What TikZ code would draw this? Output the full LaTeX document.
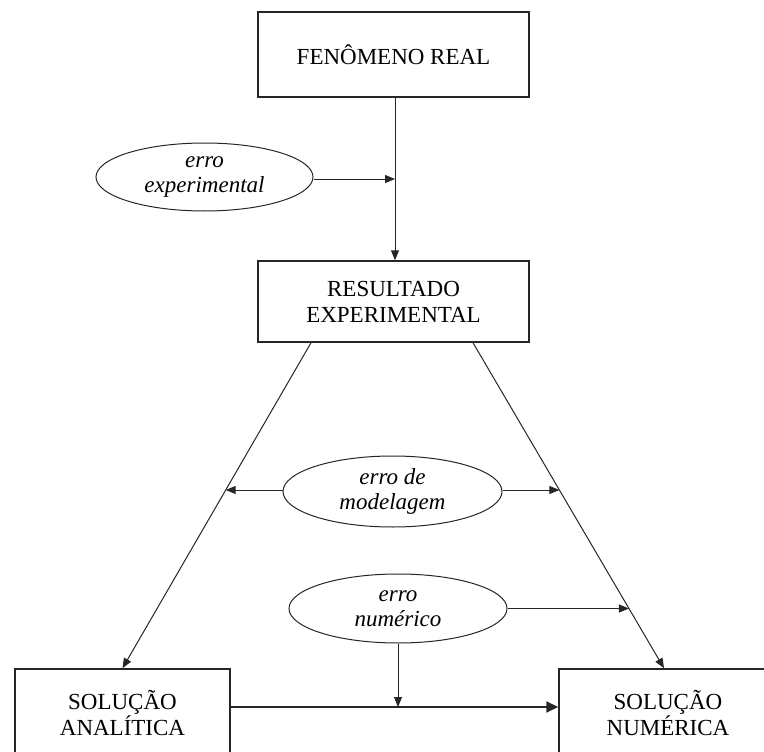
\documentclass[tikz,border=0pt]{standalone}
\usepackage{fontspec}
\setmainfont{Liberation Serif}
\usetikzlibrary{arrows.meta,shapes.geometric,intersections,calc}

\tikzset{
  box/.style={draw=black!85, line width=1.5pt, inner sep=0pt, align=center,
              font=\fontsize{23}{26}\selectfont},
  erro/.style={ellipse, draw=black!85, line width=1pt, inner sep=0pt, align=center,
               font=\fontsize{23}{25}\selectfont\itshape},
  link/.style={draw=black!85, line width=1pt},
  tip/.style={-{Triangle[length=10pt,width=8pt]}},
  bigtip/.style={-{Triangle[length=12pt,width=11pt]}}
}

\begin{document}
\begin{tikzpicture}[x=1pt,y=-1pt]
  \useasboundingbox (0,0) rectangle (764,752);
  \clip (0,0) rectangle (764,752);

  % boxes
  \node[box, minimum width=271pt, minimum height=85pt] (fen) at (393.5,54.5) {FENÔMENO REAL};
  \node[box, minimum width=271pt, minimum height=81pt] (res) at (393.5,301.5) {RESULTADO\\EXPERIMENTAL};
  \node[box, minimum width=215pt, minimum height=87pt] (sa) at (122.5,712.5) {SOLUÇÃO\\ANALÍTICA};
  \node[box, minimum width=218pt, minimum height=87pt] (sn) at (668,712.5) {SOLUÇÃO\\NUMÉRICA};

  % error sources
  \node[erro, minimum width=217pt, minimum height=68pt] (exp) at (204.5,177) {erro\\experimental};
  \node[erro, minimum width=219pt, minimum height=71pt] (mod) at (392.5,491.5) {erro de\\modelagem};
  \node[erro, minimum width=218pt, minimum height=69pt] (num) at (398,608.5) {erro\\numérico};

  % main chain
  \draw[link, tip] ([xshift=1.5pt]fen.south) -- ([xshift=1.5pt]res.north);
  \draw[link, tip, name path=ldiag] ([xshift=-82.5pt]res.south) -- (sa.north);
  \draw[link, tip, name path=rdiag] ([xshift=79.5pt]res.south) -- ([xshift=-4pt]sn.north);
  \draw[draw=black!85, line width=2pt, bigtip] ([yshift=5.5pt]sa.east) coordinate (hl) -- (hl -| sn.west);

  % error arrows
  \draw[link, tip] ([yshift=-2pt]exp.east) -- ([yshift=-2pt,xshift=1.5pt]exp.east -| fen.south);

  \path[name path=mh] (mod.west) ++(0,-1.5) -- ++(-200,0);
  \path[name path=mh2] (mod.east) ++(0,-1.5) -- ++(250,0);
  \draw[link, tip, name intersections={of=mh and ldiag, by=ml}] ([yshift=1.5pt]mod.west) -- (ml);
  \draw[link, tip, name intersections={of=mh2 and rdiag, by=mr}] ([yshift=1.5pt]mod.east) -- (mr);

  \path[name path=nh] (num.east) -- ++(300,0);
  \draw[link, tip, name intersections={of=nh and rdiag, by=nr}] (num.east) -- (nr);
  \draw[link, tip] (num.south) -- (num.south |- hl);
\end{tikzpicture}
\end{document}
